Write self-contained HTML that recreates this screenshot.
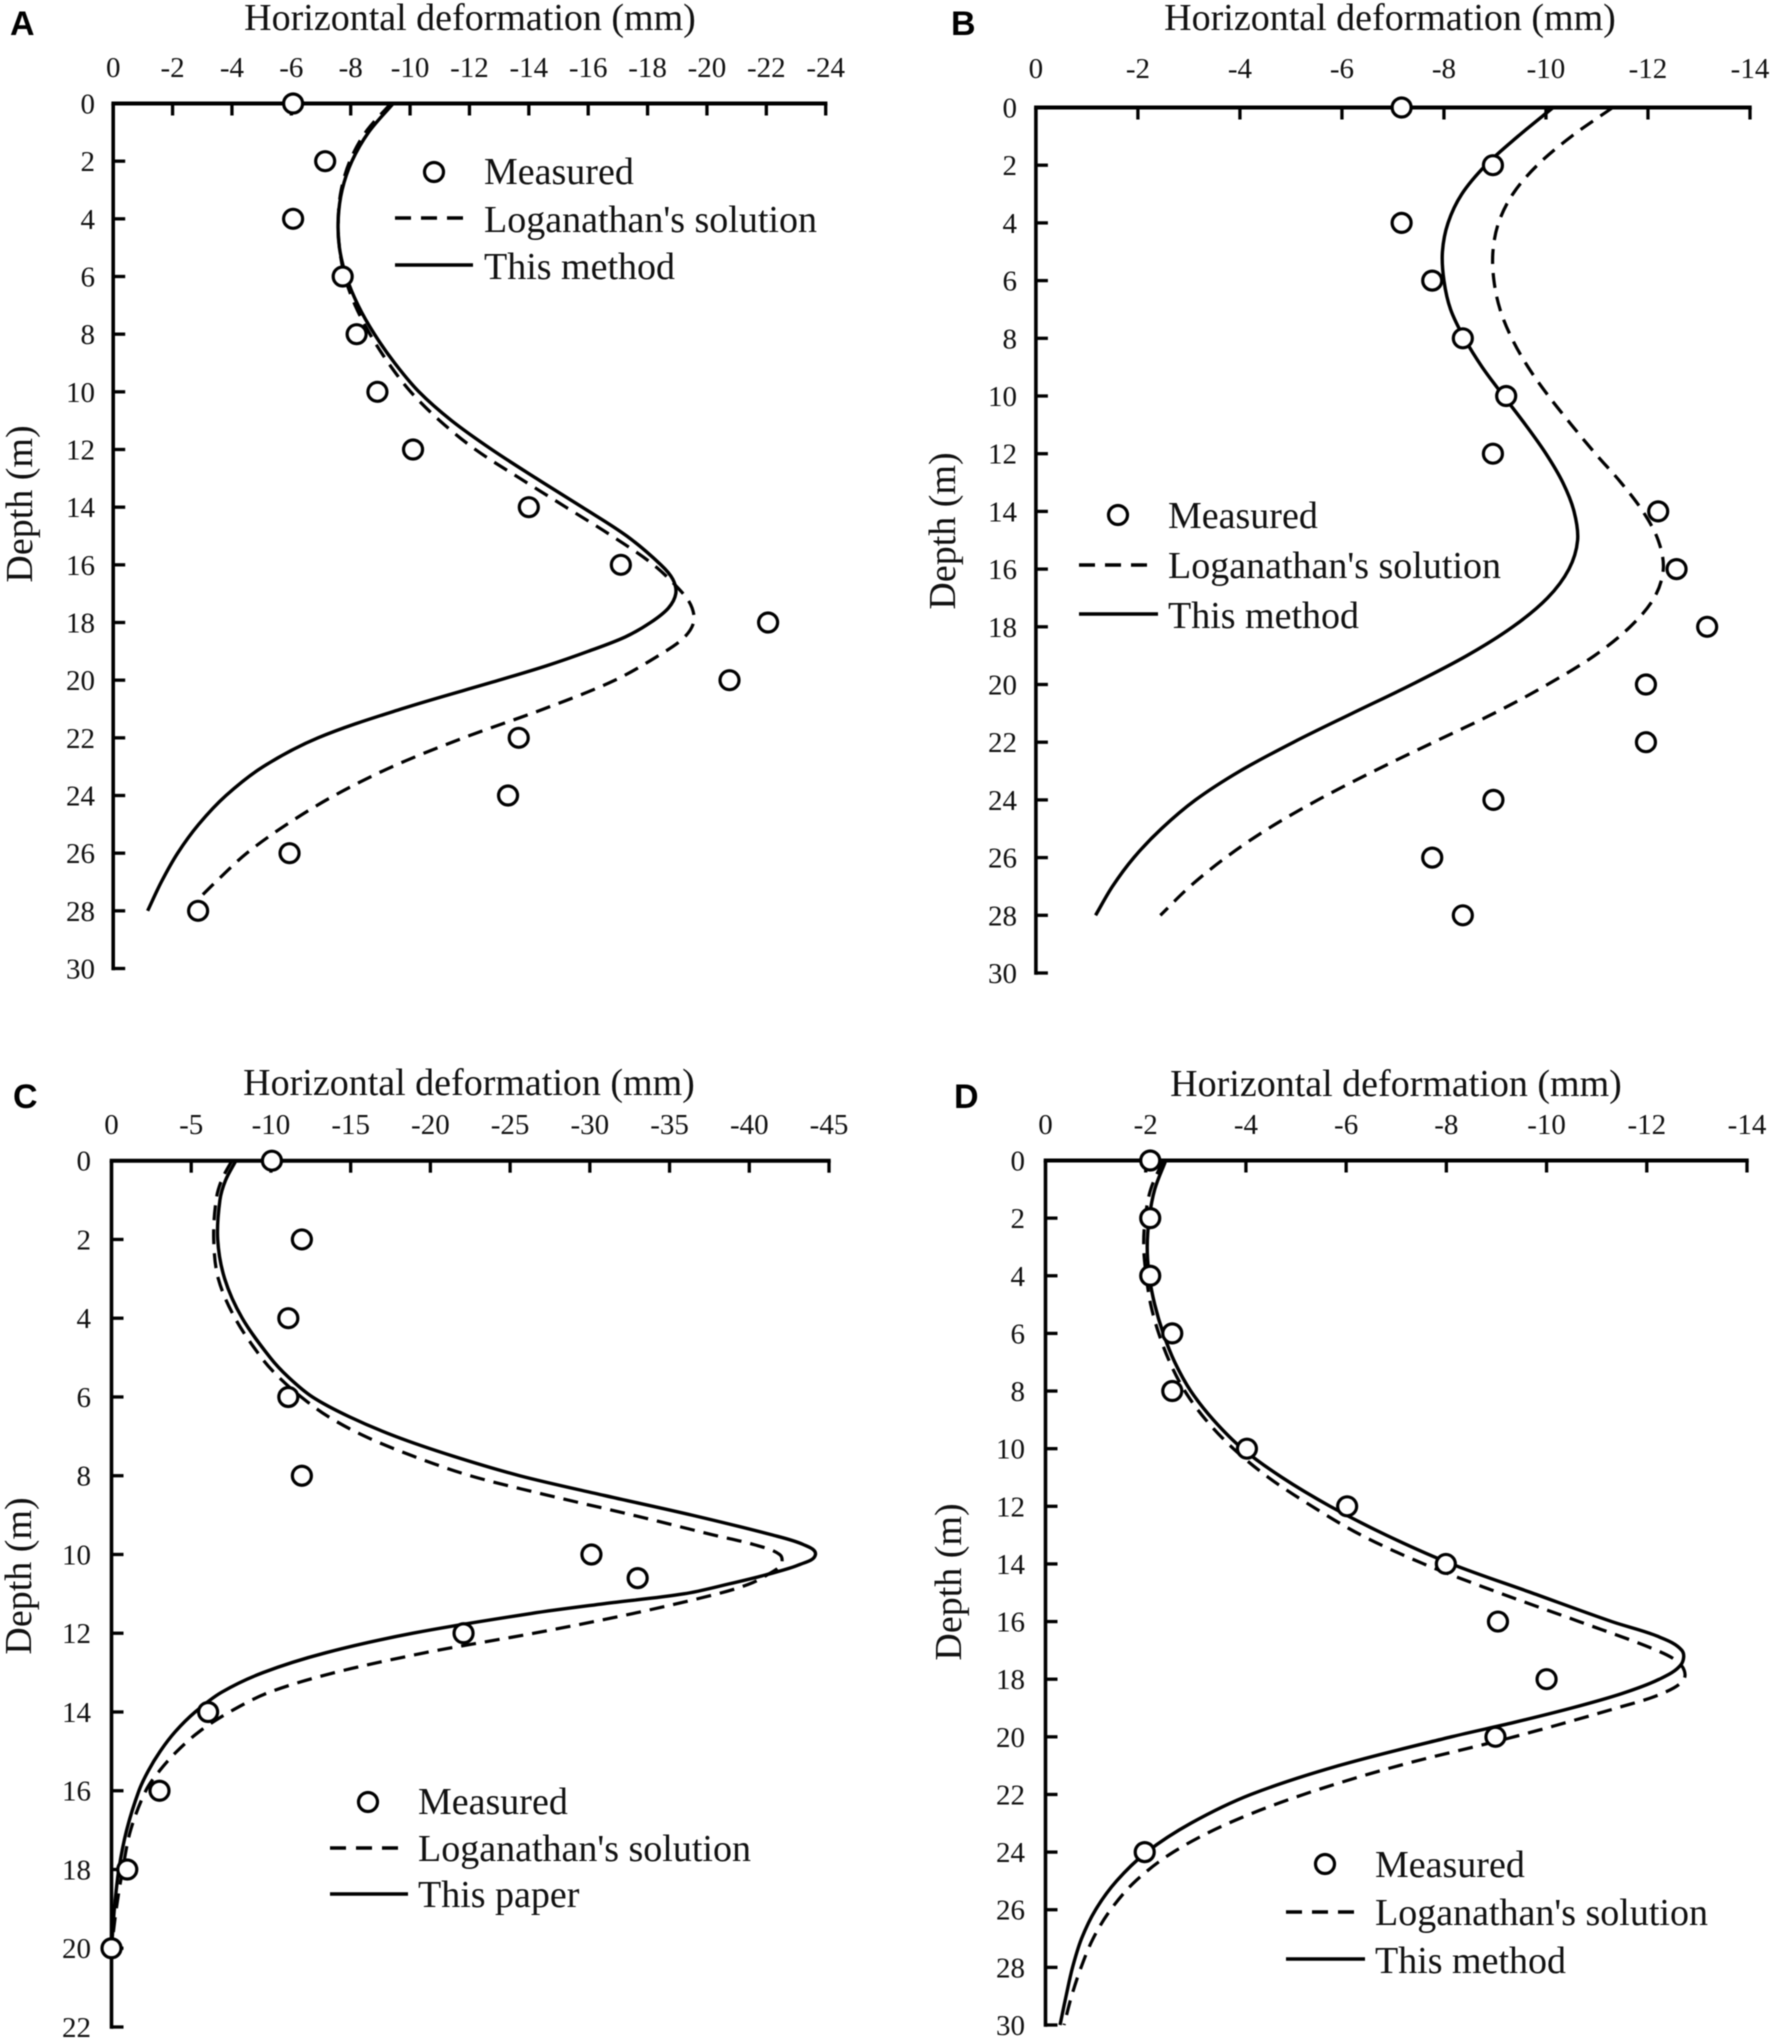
<!DOCTYPE html>
<html lang="en">
<head>
<meta charset="utf-8">
<title>Horizontal deformation versus depth</title>
<style>
html,body{margin:0;padding:0;background:#fff;}
svg{display:block;filter:blur(0.5px);}
text{font-family:"Liberation Serif",serif;fill:#111;}
.title{font-size:38px;text-anchor:middle;}
.legend{font-size:38px;}
.letter{font-family:"Liberation Sans",sans-serif;font-weight:bold;font-size:34px;fill:#000;}
.tick{font-size:29px;}
</style>
</head>
<body>
<svg id="figure" xmlns="http://www.w3.org/2000/svg" width="1772" height="2041" viewBox="0 0 1772 2041">
<rect x="0" y="0" width="1772" height="2041" fill="#fff"/>

<g id="panel-a">
  <text class="letter" x="10" y="35">A</text>
  <text class="title" x="470" y="30">Horizontal deformation (mm)</text>
  <text class="title" transform="translate(32 504) rotate(-90)">Depth (m)</text>
  <g id="marks-a"></g>
  <g>
    <circle cx="434" cy="172" r="9.5" fill="#fff" stroke="#000" stroke-width="3.2"/>
    <text class="legend" x="484" y="184">Measured</text>
    <line x1="395" y1="218" x2="463" y2="218" stroke="#000" stroke-width="3.4" stroke-dasharray="16 10"/>
    <text class="legend" x="484" y="232">Loganathan's solution</text>
    <line x1="395" y1="265" x2="473" y2="265" stroke="#000" stroke-width="3.4"/>
    <text class="legend" x="484" y="279">This method</text>
  </g>
</g>

<g id="panel-b">
  <text class="letter" x="951" y="35">B</text>
  <text class="title" x="1390" y="30">Horizontal deformation (mm)</text>
  <text class="title" transform="translate(955 531) rotate(-90)">Depth (m)</text>
  <g id="marks-b"></g>
  <g>
    <circle cx="1118" cy="515" r="9.5" fill="#fff" stroke="#000" stroke-width="3.2"/>
    <text class="legend" x="1168" y="528">Measured</text>
    <line x1="1079" y1="565" x2="1148" y2="565" stroke="#000" stroke-width="3.4" stroke-dasharray="16 10"/>
    <text class="legend" x="1168" y="578">Loganathan's solution</text>
    <line x1="1079" y1="614" x2="1158" y2="614" stroke="#000" stroke-width="3.4"/>
    <text class="legend" x="1168" y="628">This method</text>
  </g>
</g>

<g id="panel-c">
  <text class="letter" x="13" y="1108">C</text>
  <text class="title" x="469" y="1095">Horizontal deformation (mm)</text>
  <text class="title" transform="translate(31 1576) rotate(-90)">Depth (m)</text>
  <g id="marks-c"></g>
  <g>
    <circle cx="368" cy="1802" r="9.5" fill="#fff" stroke="#000" stroke-width="3.2"/>
    <text class="legend" x="418" y="1814">Measured</text>
    <line x1="330" y1="1848" x2="398" y2="1848" stroke="#000" stroke-width="3.4" stroke-dasharray="16 10"/>
    <text class="legend" x="418" y="1861">Loganathan's solution</text>
    <line x1="330" y1="1894" x2="408" y2="1894" stroke="#000" stroke-width="3.4"/>
    <text class="legend" x="418" y="1907">This paper</text>
  </g>
</g>

<g id="panel-d">
  <text class="letter" x="954" y="1108">D</text>
  <text class="title" x="1396" y="1096">Horizontal deformation (mm)</text>
  <text class="title" transform="translate(961 1582) rotate(-90)">Depth (m)</text>
  <g id="marks-d"></g>
  <g>
    <circle cx="1325" cy="1864" r="9.5" fill="#fff" stroke="#000" stroke-width="3.2"/>
    <text class="legend" x="1375" y="1877">Measured</text>
    <line x1="1286" y1="1912" x2="1354" y2="1912" stroke="#000" stroke-width="3.4" stroke-dasharray="16 10"/>
    <text class="legend" x="1375" y="1925">Loganathan's solution</text>
    <line x1="1286" y1="1959" x2="1365" y2="1959" stroke="#000" stroke-width="3.4"/>
    <text class="legend" x="1375" y="1973">This method</text>
  </g>
</g>
</svg>

<script>
/* ---------- Panel A data ---------- */
const aXTicks = [0,-2,-4,-6,-8,-10,-12,-14,-16,-18,-20,-22,-24];
const aYTicks = [0,2,4,6,8,10,12,14,16,18,20,22,24,26,28,30];
const aSolidDepth = [0,1,2,3,4,5,6,7,8,9,10,11,12,13,14,15,16,16.5,17,17.5,18,18.5,19,19.5,20,21,22,23,24,25,26,27,28];
const aSolidValue = [-9.43,-8.6,-8.04,-7.71,-7.58,-7.62,-7.85,-8.25,-8.8,-9.48,-10.3,-11.4,-12.75,-14.25,-15.8,-17.3,-18.45,-18.85,-18.95,-18.7,-18.1,-17.25,-16,-14.6,-13,-9.7,-6.9,-5.05,-3.8,-2.88,-2.17,-1.62,-1.16];
const aDashedDepth = [0,1,2,3,4,5,6,7,8,9,10,11,12,13,14,15,16,17,17.5,18,18.5,19,20,21,22,23,24,25,26,27,27.6];
const aDashedValue = [-9.35,-8.5,-7.97,-7.68,-7.58,-7.62,-7.8,-8.15,-8.65,-9.27,-10.02,-11,-12.2,-13.7,-15.25,-16.8,-18.2,-19.2,-19.5,-19.55,-19.25,-18.6,-16.9,-14.5,-11.8,-9.4,-7.45,-5.85,-4.5,-3.45,-2.86];
const aMeasuredDepth = [0,2,4,6,8,10,12,14,16,18,20,22,24,26,28];
const aMeasuredValue = [-6.06,-7.14,-6.06,-7.73,-8.2,-8.9,-10.1,-14,-17.1,-22.06,-20.76,-13.66,-13.3,-5.94,-2.86];

/* ---------- Panel B data ---------- */
const bXTicks = [0,-2,-4,-6,-8,-10,-12,-14];
const bYTicks = [0,2,4,6,8,10,12,14,16,18,20,22,24,26,28,30];
const bSolidDepth = [0,1,2,3,4,5,6,7,8,9,10,11,12,13,14,15,16,17,18,19,20,21,22,23,24,25,26,27,28];
const bSolidValue = [-10.14,-9.45,-8.82,-8.35,-8.08,-7.97,-8,-8.13,-8.4,-8.75,-9.17,-9.6,-10,-10.33,-10.55,-10.62,-10.45,-10.03,-9.35,-8.45,-7.37,-6.2,-5.05,-4,-3.13,-2.46,-1.92,-1.5,-1.17];
const bDashedDepth = [0,1,2,3,4,5,6,7,8,9,10,11,12,13,14,15,16,17,18,19,20,21,22,23,24,25,26,27,28];
const bDashedValue = [-11.31,-10.5,-9.83,-9.35,-9.07,-8.96,-8.98,-9.1,-9.33,-9.65,-10.05,-10.5,-10.97,-11.47,-11.9,-12.2,-12.3,-12.12,-11.65,-10.95,-10.03,-8.98,-7.8,-6.63,-5.53,-4.55,-3.72,-3.02,-2.44];
const bMeasuredDepth = [0,2,4,6,8,10,12,14,16,18,20,22,24,26,28];
const bMeasuredValue = [-7.17,-8.96,-7.17,-7.77,-8.37,-9.22,-8.96,-12.2,-12.56,-13.16,-11.96,-11.96,-8.97,-7.77,-8.37];

/* ---------- Panel C data ---------- */
const cXTicks = [0,-5,-10,-15,-20,-25,-30,-35,-40,-45];
const cYTicks = [0,2,4,6,8,10,12,14,16,18,20,22];
const cSolidDepth = [0,0.5,1,2,3,4,5,5.5,6,6.5,7,7.5,8,8.5,9,9.5,9.75,10,10.25,10.5,10.75,11,11.25,11.5,12,12.5,13,13.5,14,14.5,15,15.5,16,17,18,19,20];
const cSolidValue = [-7.8,-7.15,-6.8,-6.66,-7.1,-8.2,-9.95,-11.1,-12.6,-14.9,-17.8,-21.4,-25.6,-30.9,-36.4,-41.4,-43.4,-44.15,-43.2,-41.2,-38.7,-35.9,-30.9,-26.3,-18.9,-13.4,-9.5,-6.9,-5.25,-4,-3.05,-2.3,-1.72,-0.95,-0.46,-0.18,0];
const cDashedDepth = [0,0.5,1,2,3,4,5,5.5,6,6.5,7,7.5,8,8.5,9,9.5,9.75,10,10.25,10.5,10.75,11,11.5,12,12.25,12.5,13,13.5,14,14.5,15,15.5,16,17,18,19,20];
const cDashedValue = [-7.55,-6.9,-6.56,-6.41,-6.7,-7.75,-9.4,-10.5,-11.9,-13.6,-15.9,-18.9,-22.5,-27.4,-32.7,-37.7,-40.3,-41.9,-42,-41.2,-40,-38,-32.7,-26.5,-23,-19.6,-14,-9.9,-7.4,-5.5,-4.1,-3,-2.15,-1.2,-0.7,-0.3,0];
const cMeasuredDepth = [0,2,4,6,8,10,10.6,12,14,16,18,20];
const cMeasuredValue = [-10.06,-11.94,-11.09,-11.09,-11.94,-30.1,-33,-22.08,-6.06,-3.01,-0.99,0];

/* ---------- Panel D data ---------- */
const dXTicks = [0,-2,-4,-6,-8,-10,-12,-14];
const dYTicks = [0,2,4,6,8,10,12,14,16,18,20,22,24,26,28,30];
const dSolidDepth = [0,1,2,3,4,5,6,7,8,9,10,11,12,13,14,15,16,16.5,17,17.5,18,18.5,19,19.5,20,21,22,23,24,25,26,27,28,29,30];
const dSolidValue = [-2.4,-2.18,-2.07,-2.03,-2.07,-2.18,-2.35,-2.58,-2.9,-3.35,-3.93,-4.72,-5.68,-6.8,-8.1,-9.7,-11.3,-12.2,-12.7,-12.68,-12.25,-11.5,-10.5,-9.35,-8.1,-5.85,-4.1,-2.9,-2.02,-1.42,-1,-0.72,-0.54,-0.41,-0.29];
const dDashedDepth = [0,1,2,3,4,5,6,7,8,9,10,11,12,13,14,15,16,17,17.5,18,18.5,19,20,21,22,23,24,25,26,27,28,29,30];
const dDashedValue = [-2.35,-2.1,-1.99,-1.96,-2.01,-2.1,-2.26,-2.48,-2.78,-3.2,-3.75,-4.45,-5.32,-6.3,-7.55,-9.05,-10.65,-12.2,-12.68,-12.74,-12.3,-11.4,-9.35,-7.05,-5.15,-3.65,-2.55,-1.8,-1.3,-0.95,-0.71,-0.52,-0.37];
const dMeasuredDepth = [0,2,4,6,8,10,12,14,16,18,20,24];
const dMeasuredValue = [-2.09,-2.09,-2.09,-2.53,-2.53,-4.02,-6.02,-7.99,-9.03,-10,-8.98,-1.98];

const SVG_NS = 'http://www.w3.org/2000/svg';

function make(tag, attrs, parent) {
  const el = document.createElementNS(SVG_NS, tag);
  for (const k in attrs) el.setAttribute(k, attrs[k]);
  parent.appendChild(el);
  return el;
}

function smoothPath(pts) {
  let d = 'M' + pts[0][0].toFixed(2) + ' ' + pts[0][1].toFixed(2);
  for (let i = 0; i < pts.length - 1; i++) {
    const p0 = pts[Math.max(i - 1, 0)];
    const p1 = pts[i];
    const p2 = pts[i + 1];
    const p3 = pts[Math.min(i + 2, pts.length - 1)];
    const h1 = Math.hypot(p2[0] - p1[0], p2[1] - p1[1]);
    const h0 = Math.hypot(p2[0] - p0[0], p2[1] - p0[1]) || 1;
    const h2 = Math.hypot(p3[0] - p1[0], p3[1] - p1[1]) || 1;
    const c1x = p1[0] + (p2[0] - p0[0]) / h0 * h1 / 3;
    const c1y = p1[1] + (p2[1] - p0[1]) / h0 * h1 / 3;
    const c2x = p2[0] - (p3[0] - p1[0]) / h2 * h1 / 3;
    const c2y = p2[1] - (p3[1] - p1[1]) / h2 * h1 / 3;
    d += 'C' + c1x.toFixed(2) + ' ' + c1y.toFixed(2) + ' ' + c2x.toFixed(2) + ' ' + c2y.toFixed(2) + ' ' + p2[0].toFixed(2) + ' ' + p2[1].toFixed(2);
  }
  return d;
}

function drawPanel(opts) {
  const root = document.getElementById(opts.id);
  const xMax = Math.min.apply(null, opts.xTicks);
  const yMax = Math.max.apply(null, opts.yTicks);
  const xScale = function (v) { return opts.x0 + (v / xMax) * (opts.x1 - opts.x0); };
  const yScale = function (v) { return opts.y0 + (v / yMax) * (opts.y1 - opts.y0); };

  const xAxis = make('line', {x1: opts.x0 - 1.8, y1: opts.y0, x2: opts.x1 + 1.7, y2: opts.y0, stroke: '#000', 'stroke-width': 4}, root);
  
  
  const yAxis = make('line', {x1: opts.x0, y1: opts.y0, x2: opts.x0, y2: opts.y1 + 1.7, stroke: '#000', 'stroke-width': 3.6}, root);
  
  

  opts.xTicks.forEach(function (t) {
    const px = xScale(t);
    if (t !== 0) {
      const mark = make('line', {x1: px, y1: opts.y0, x2: px, y2: opts.y0 + 12, stroke: '#000', 'stroke-width': 3.3}, root);
      
      
    }
    const label = make('text', {class: 'tick', x: px, y: opts.xLabelY, 'text-anchor': 'middle'}, root);
    
    
    label.textContent = String(t);
  });

  opts.yTicks.forEach(function (t) {
    const py = yScale(t);
    if (t !== 0) {
      const mark = make('line', {x1: opts.x0, y1: py, x2: opts.x0 + 12, y2: py, stroke: '#000', 'stroke-width': 3.3}, root);
      
      
    }
    const label = make('text', {class: 'tick', x: opts.yLabelX, y: py + 10, 'text-anchor': 'end'}, root);
    
    
    label.textContent = String(t);
  });

  const dashedPts = opts.dashedDepth.map(function (d, i) { return [xScale(opts.dashedValue[i]), yScale(d)]; });
  const dashed = make('path', {d: smoothPath(dashedPts), fill: 'none', stroke: '#000', 'stroke-width': 3.2, 'stroke-dasharray': '15 9'}, root);
  
  

  const solidPts = opts.solidDepth.map(function (d, i) { return [xScale(opts.solidValue[i]), yScale(d)]; });
  const solid = make('path', {d: smoothPath(solidPts), fill: 'none', stroke: '#000', 'stroke-width': 3.4}, root);
  
  

  opts.measuredDepth.forEach(function (d, i) {
    const dot = make('circle', {cx: xScale(opts.measuredValue[i]), cy: yScale(d), r: 9.5, fill: '#fff', stroke: '#000', 'stroke-width': 3.2}, root);
    
    
  });
}

drawPanel({id: 'marks-a', x0: 113.2, x1: 825.7, y0: 103.5, y1: 968.5, xLabelY: 77, yLabelX: 95,
  xTicks: aXTicks, yTicks: aYTicks,
  solidDepth: aSolidDepth, solidValue: aSolidValue,
  dashedDepth: aDashedDepth, dashedValue: aDashedValue,
  measuredDepth: aMeasuredDepth, measuredValue: aMeasuredValue});

drawPanel({id: 'marks-b', x0: 1035.9, x1: 1750, y0: 107.5, y1: 973, xLabelY: 78, yLabelX: 1017,
  xTicks: bXTicks, yTicks: bYTicks,
  solidDepth: bSolidDepth, solidValue: bSolidValue,
  dashedDepth: bDashedDepth, dashedValue: bDashedValue,
  measuredDepth: bMeasuredDepth, measuredValue: bMeasuredValue});

drawPanel({id: 'marks-c', x0: 111.5, x1: 829, y0: 1160.7, y1: 2027, xLabelY: 1134, yLabelX: 91,
  xTicks: cXTicks, yTicks: cYTicks,
  solidDepth: cSolidDepth, solidValue: cSolidValue,
  dashedDepth: cDashedDepth, dashedValue: cDashedValue,
  measuredDepth: cMeasuredDepth, measuredValue: cMeasuredValue});

drawPanel({id: 'marks-d', x0: 1045.5, x1: 1747, y0: 1160.5, y1: 2025, xLabelY: 1134, yLabelX: 1025,
  xTicks: dXTicks, yTicks: dYTicks,
  solidDepth: dSolidDepth, solidValue: dSolidValue,
  dashedDepth: dDashedDepth, dashedValue: dDashedValue,
  measuredDepth: dMeasuredDepth, measuredValue: dMeasuredValue});
</script>
</body>
</html>
